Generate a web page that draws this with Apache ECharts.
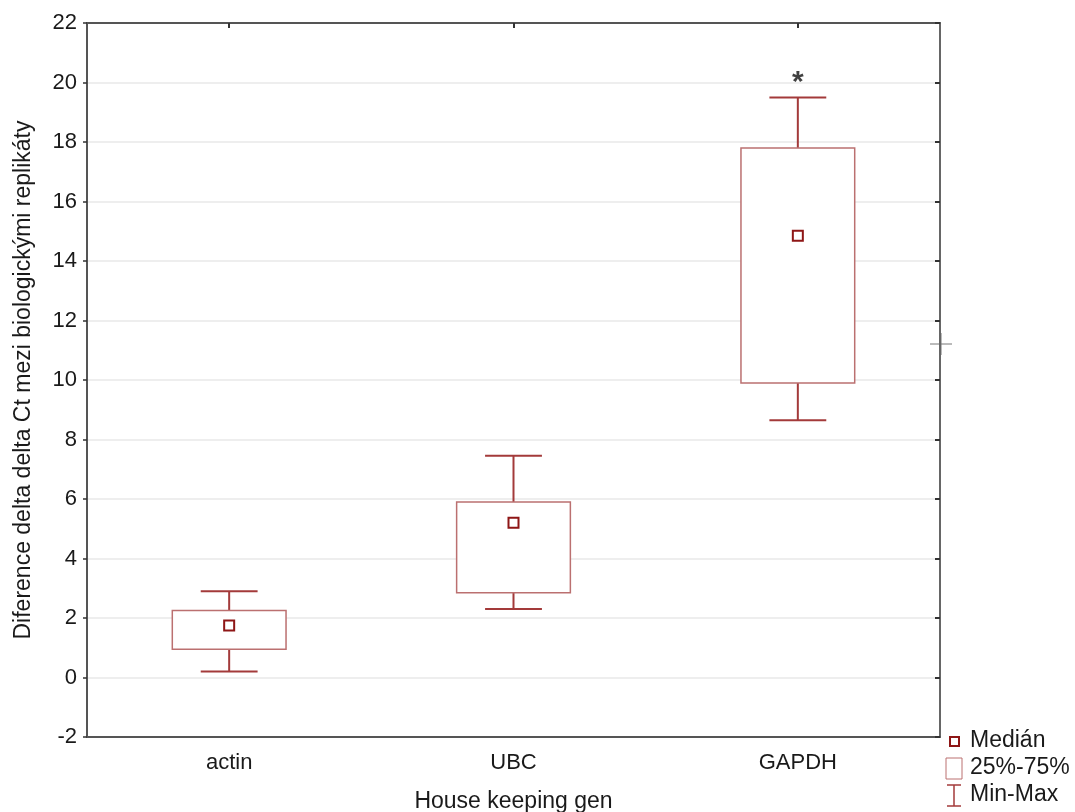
<!DOCTYPE html>
<html>
<head>
<meta charset="utf-8">
<script src="https://cdn.jsdelivr.net/npm/echarts@6/dist/echarts.min.js"></script>
<style>
  html, body { margin: 0; padding: 0; background: #fff; }
  #main { width: 1075px; height: 812px; }
</style>
</head>
<body>
<div id="main"></div>
<script>
// data
var genes = ['actin', 'UBC', 'GAPDH'];
var minVals = [0.2, 2.3, 8.65];
var q1Vals = [0.95, 2.85, 9.9];
var medianVals = [1.75, 5.2, 14.85];
var q3Vals = [2.25, 5.9, 17.8];
var maxVals = [2.9, 7.45, 19.5];
var yTicks = [-2, 0, 2, 4, 6, 8, 10, 12, 14, 16, 18, 20, 22];
var starMark = [['GAPDH', 20.0]];

var boxColor = '#bb7070';
var whiskerColor = '#a33a3a';
var medianColor = '#8e1616';
var font = 'Liberation Sans, Arial, sans-serif';

var boxData = genes.map(function (g, i) {
  return [i, minVals[i], q1Vals[i], medianVals[i], q3Vals[i], maxVals[i]];
});

function renderBox(params, api) {
  var idx = api.value(0);
  var pMin = api.coord([idx, api.value(1)]);
  var pQ1 = api.coord([idx, api.value(2)]);
  var pMed = api.coord([idx, api.value(3)]);
  var pQ3 = api.coord([idx, api.value(4)]);
  var pMax = api.coord([idx, api.value(5)]);
  var band = api.size([1, 0])[0];
  var bw = band * 0.4;
  var cw = band * 0.2;
  var x = pMed[0];
  var ms = 10;
  return {
    type: 'group',
    children: [
      { type: 'line', shape: { x1: x, y1: pMax[1], x2: x, y2: pQ3[1] },
        style: { stroke: whiskerColor, lineWidth: 2 } },
      { type: 'line', shape: { x1: x - cw / 2, y1: pMax[1], x2: x + cw / 2, y2: pMax[1] },
        style: { stroke: whiskerColor, lineWidth: 2 } },
      { type: 'line', shape: { x1: x, y1: pMin[1], x2: x, y2: pQ1[1] },
        style: { stroke: whiskerColor, lineWidth: 2 } },
      { type: 'line', shape: { x1: x - cw / 2, y1: pMin[1], x2: x + cw / 2, y2: pMin[1] },
        style: { stroke: whiskerColor, lineWidth: 2 } },
      { type: 'rect', shape: { x: x - bw / 2, y: pQ3[1], width: bw, height: pQ1[1] - pQ3[1] },
        style: { fill: '#fff', stroke: boxColor, lineWidth: 1.5 } },
      { type: 'rect', shape: { x: x - ms / 2, y: pMed[1] - ms / 2, width: ms, height: ms },
        style: { fill: '#fff', stroke: medianColor, lineWidth: 2 } }
    ]
  };
}

var chart = echarts.init(document.getElementById('main'));
var option = {
  animation: false,
  backgroundColor: '#fff',
  textStyle: { fontFamily: font },
  grid: { left: 87, right: 135, top: 23, bottom: 75, containLabel: false, outerBoundsMode: 'none' },
  xAxis: [
    {
      type: 'category',
      data: genes,
      name: 'House keeping gen',
      nameLocation: 'middle',
      nameGap: 53,
      nameTextStyle: { color: '#1a1a1a', fontSize: 23, fontFamily: font },
      axisLine: { onZero: false, lineStyle: { color: '#555', width: 2 } },
      axisTick: { alignWithLabel: true, inside: true, length: 5, lineStyle: { color: '#333', width: 2 } },
      axisLabel: { color: '#1a1a1a', fontSize: 22, margin: 15, fontFamily: font },
      splitLine: { show: false }
    },
    {
      type: 'category',
      data: genes,
      position: 'top',
      axisLine: { onZero: false, lineStyle: { color: '#555', width: 2 } },
      axisTick: { show: true, alignWithLabel: true, inside: true, length: 5, lineStyle: { color: '#333', width: 2 } },
      axisLabel: { show: false }
    }
  ],
  yAxis: [
    {
      type: 'value',
      min: -2,
      max: 22,
      interval: 2,
      name: 'Diference delta delta Ct mezi biologickými replikáty',
      nameLocation: 'middle',
      nameGap: 52,
      nameTextStyle: { color: '#1a1a1a', fontSize: 23, fontFamily: font },
      axisLine: { show: true, onZero: false, lineStyle: { color: '#555', width: 2 } },
      axisTick: { show: true, length: 4, lineStyle: { color: '#333', width: 1.5 } },
      axisLabel: { color: '#1a1a1a', fontSize: 22, margin: 10, fontFamily: font,
        formatter: function (v) { return yTicks.indexOf(v) >= 0 ? String(v) : ''; } },
      splitLine: { show: true, lineStyle: { color: '#e8e8e8', width: 1.5 } }
    },
    {
      type: 'value',
      min: -2,
      max: 22,
      interval: 2,
      position: 'right',
      axisLine: { show: true, onZero: false, lineStyle: { color: '#666', width: 2 } },
      axisTick: { show: true, inside: true, length: 5, lineStyle: { color: '#333', width: 2 } },
      axisLabel: { show: false },
      splitLine: { show: false }
    }
  ],
  series: [
    {
      type: 'custom',
      renderItem: renderBox,
      data: boxData,
      encode: { x: 0, y: [1, 2, 3, 4, 5] },
      z: 3
    },
    {
      type: 'scatter',
      data: starMark,
      symbolSize: 0,
      label: {
        show: true,
        formatter: '*',
        position: 'inside',
        color: '#111',
        fontSize: 30,
        fontWeight: 'bold',
        fontFamily: font
      },
      z: 4
    }
  ],
  graphic: [
    // small cross at the right edge
    { type: 'line', shape: { x1: 930, y1: 344, x2: 952, y2: 344 }, style: { stroke: '#777', lineWidth: 1 } },
    { type: 'line', shape: { x1: 941, y1: 333, x2: 941, y2: 355 }, style: { stroke: '#777', lineWidth: 1 } },
    // legend
    { type: 'rect', shape: { x: 950, y: 737, width: 9, height: 9 },
      style: { fill: '#fff', stroke: medianColor, lineWidth: 2 } },
    { type: 'text', left: 970, top: 729, style: { text: 'Medián', fill: '#1a1a1a', fontSize: 23, fontFamily: font } },
    { type: 'rect', shape: { x: 946, y: 758, width: 16, height: 21 },
      style: { fill: '#fff', stroke: boxColor, lineWidth: 1 } },
    { type: 'text', left: 970, top: 756, style: { text: '25%-75%', fill: '#1a1a1a', fontSize: 23, fontFamily: font } },
    { type: 'line', shape: { x1: 947, y1: 785, x2: 961, y2: 785 }, style: { stroke: whiskerColor, lineWidth: 1.5 } },
    { type: 'line', shape: { x1: 954, y1: 785, x2: 954, y2: 806 }, style: { stroke: whiskerColor, lineWidth: 1.5 } },
    { type: 'line', shape: { x1: 947, y1: 806, x2: 961, y2: 806 }, style: { stroke: whiskerColor, lineWidth: 1.5 } },
    { type: 'text', left: 970, top: 783, style: { text: 'Min-Max', fill: '#1a1a1a', fontSize: 23, fontFamily: font } }
  ]
};
chart.setOption(option);
</script>
</body>
</html>
